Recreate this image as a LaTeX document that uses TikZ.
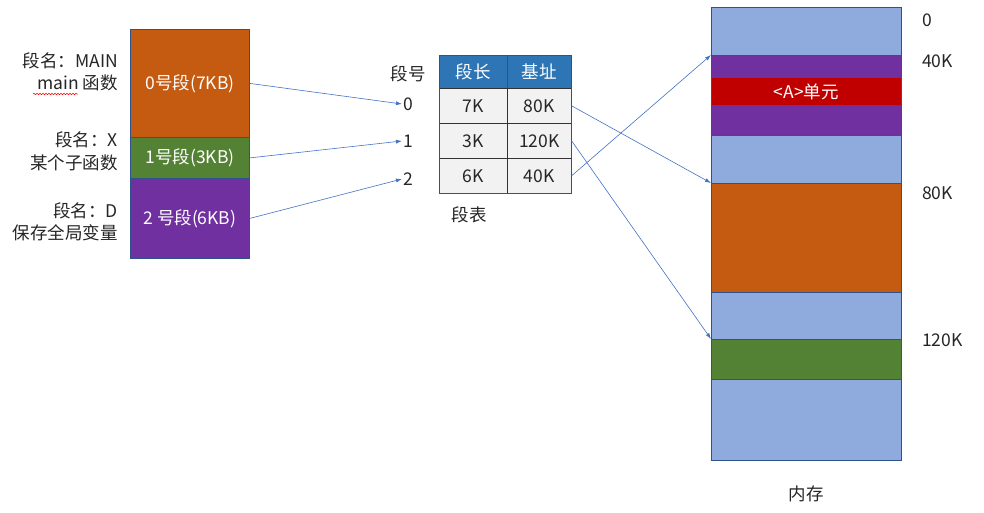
\documentclass[tikz,border=0pt]{standalone}
\usepackage{fontspec}
\setmainfont{Noto Sans CJK SC}
\usetikzlibrary{arrows.meta,decorations.pathmorphing}

\definecolor{edgeblue}{HTML}{2F528F}
\definecolor{linkblue}{HTML}{4472C4}
\definecolor{segorange}{HTML}{C55A11}
\definecolor{seggreen}{HTML}{548235}
\definecolor{segpurple}{HTML}{7030A0}
\definecolor{cellred}{HTML}{C00000}
\definecolor{freeblue}{HTML}{8FAADC}
\definecolor{headblue}{HTML}{2E75B6}
\definecolor{cellgray}{HTML}{F2F2F2}
\definecolor{txt}{HTML}{262626}

\tikzset{
  segblk/.style={draw=edgeblue, line width=0.8pt, anchor=north west, inner sep=0pt,
    minimum width=119, text=white},
  memblk/.style={draw=edgeblue, line width=0.8pt, anchor=north west, inner sep=0pt,
    minimum width=190, text=white},
  headcell/.style={draw=edgeblue, fill=headblue, line width=0.6pt, anchor=north west,
    inner sep=0pt, minimum height=33, text=white},
  cell/.style={draw=black!80, fill=cellgray, line width=0.6pt, anchor=north west,
    inner sep=0pt, minimum height=35, text=txt},
  lbl/.style={text=txt, inner sep=1pt},
  link/.style={draw=linkblue, line width=0.6pt, -{Latex[length=6pt,width=4pt]}}
}

\begin{document}
\begin{tikzpicture}[x=1pt, y=-1pt, font=\fontsize{17.5}{20}\selectfont]
    \fill[white] (0,0) rectangle (984,512);

    % program segments
    \node[segblk, fill=segorange, minimum height=108] (seg0) at (130,29) {0号段(7KB)};
    \node[segblk, fill=seggreen, minimum height=41] (seg1) at (130,137) {1号段(3KB)};
    \node[segblk, fill=segpurple, minimum height=80] (seg2) at (130,178) {2 号段(6KB)};

    % segment names
    \node[lbl, anchor=east] (name0) at (119,61) {段名：MAIN};
    \node[lbl, anchor=east] (fn0) at (119,83) {main 函数};
    \node[lbl, anchor=east] (name1) at (119,140) {段名：X};
    \node[lbl, anchor=east] (fn1) at (119,163) {某个子函数};
    \node[lbl, anchor=east] (name2) at (119,211) {段名：D};
    \node[lbl, anchor=east] (fn2) at (119,233) {保存全局变量};
    \draw[red, line width=0.5pt, decorate, decoration={snake, amplitude=0.8pt, segment length=3pt}]
        (33,94) -- (78,94);

    % segment numbers
    \node[lbl] (nhead) at (408,74) {段号};
    \node[lbl] (n0) at (408,104) {0};
    \node[lbl] (n1) at (408,141) {1};
    \node[lbl] (n2) at (408,179) {2};

    % segment table
    \node[headcell, minimum width=68] (hlen) at (439,55) {段长};
    \node[headcell, minimum width=64] (hbase) at (507,55) {基址};
    \node[cell, minimum width=68] (len0) at (439,88) {7K};
    \node[cell, minimum width=64] (base0) at (507,88) {80K};
    \node[cell, minimum width=68] (len1) at (439,123) {3K};
    \node[cell, minimum width=64] (base1) at (507,123) {120K};
    \node[cell, minimum width=68] (len2) at (439,158) {6K};
    \node[cell, minimum width=64] (base2) at (507,158) {40K};
    \draw[edgeblue, line width=0.8pt] (hlen.north west) rectangle (base2.south east);
    \node[lbl] (tname) at (469,215) {段表};

    % memory
    \node[memblk, fill=freeblue, minimum height=48] (m0) at (711,7) {};
    \node[memblk, fill=segpurple, minimum height=23] (m1) at (711,55) {};
    \node[memblk, fill=cellred, draw=none, minimum height=27] (mA) at (711,78) {<A>单元};
    \node[memblk, fill=segpurple, minimum height=30] (m2) at (711,105) {};
    \node[memblk, fill=freeblue, minimum height=48] (m3) at (711,135) {};
    \node[memblk, fill=segorange, minimum height=109] (m4) at (711,183) {};
    \node[memblk, fill=freeblue, minimum height=47] (m5) at (711,292) {};
    \node[memblk, fill=seggreen, minimum height=40] (m6) at (711,339) {};
    \node[memblk, fill=freeblue, minimum height=81] (m7) at (711,379) {};
    \draw[edgeblue, line width=0.8pt] (m0.north west) rectangle (m7.south east);
    \node[lbl] (mname) at (806,494) {内存};

    % addresses
    \node[lbl, anchor=west] (a0) at (921,20) {0};
    \node[lbl, anchor=west] (a40) at (921,61) {40K};
    \node[lbl, anchor=west] (a80) at (921,193) {80K};
    \node[lbl, anchor=west] (a120) at (921,340) {120K};

    % mapping arrows
    \draw[link] (seg0.east) -- (n0.west);
    \draw[link] (seg1.east) -- (n1.west);
    \draw[link] (seg2.east) -- (n2.west);
    \draw[link] (base0.east) -- (m4.north west);
    \draw[link] (base1.east) -- (m6.north west);
    \draw[link] (base2.east) -- (m1.north west);
\end{tikzpicture}
\end{document}
